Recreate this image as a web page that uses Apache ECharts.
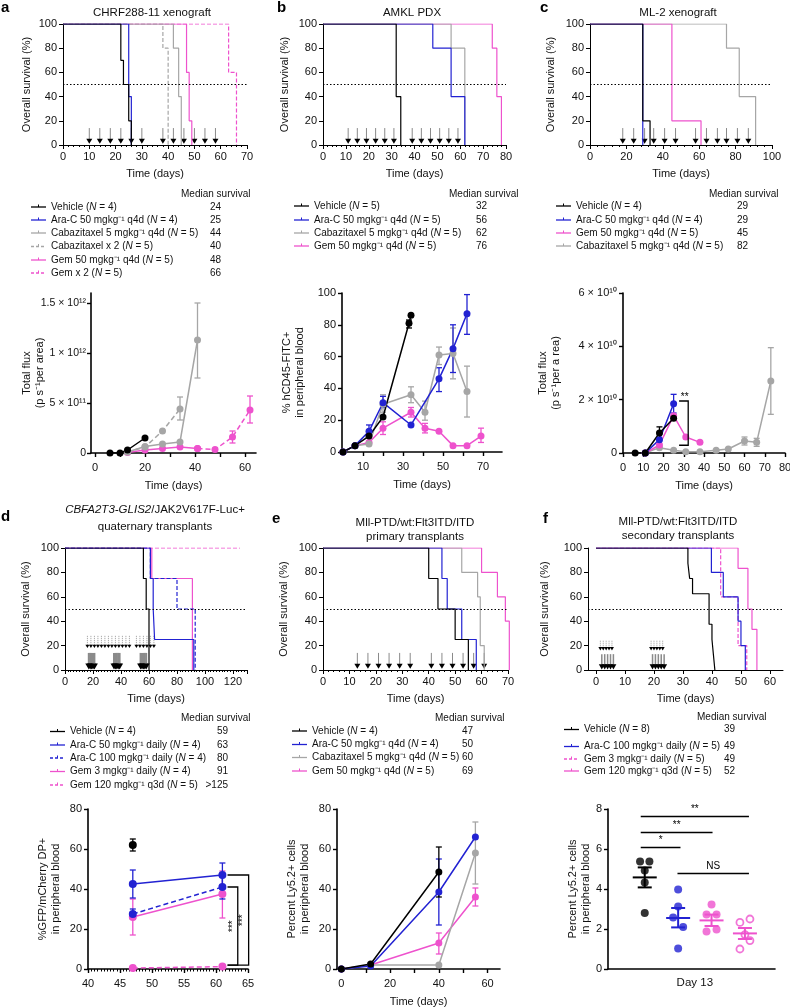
<!DOCTYPE html>
<html>
<head>
<meta charset="utf-8">
<script src="https://cdn.jsdelivr.net/npm/echarts@6/dist/echarts.min.js"></script>
<style>
  html, body { margin: 0; background: #fff; }
  #chart { width: 790px; height: 1007px; }
</style>
</head>
<body>
<div id="chart"></div>
<script>
const FONT = '"Liberation Sans", Arial, Helvetica, sans-serif';
const BLACK = '#000000', BLUE = '#2222d2', GRAY = '#a6a6a6', PINK = '#ee52cd';

// ---------- a: CHRF288-11 xenograft (survival, [day, % alive])
const aVehicle = [[0,100],[22,70],[23,50],[25,20],[26,0]];
const aAraC = [[0,100],[25,40],[26,0]];
const aCabazi = [[0,100],[42,80],[44,40],[45,0]];
const aCabazi2 = [[0,100],[38,80],[40,0]];
const aGem = [[0,100],[47,60],[48,20],[49,0]];
const aGem2 = [[0,100],[63,60],[66,0]];
const aDoseDays = [10,14,18,22,26,30,38,42,46,50,54,58];
const aNames = ['Vehicle ({i|N} = 4)', 'Ara-C 50 mgkg⁻¹ q4d ({i|N} = 4)', 'Cabazitaxel 5 mgkg⁻¹ q4d ({i|N} = 5)',
  'Cabazitaxel x 2 ({i|N} = 5)', 'Gem 50 mgkg⁻¹ q4d ({i|N} = 5)', 'Gem x 2 ({i|N} = 5)'];
const aMedians = ['24','25','44','40','48','66'];

// a: total flux (p/s per area)
const aFluxVehDays = [6,10,13,20],        aFluxVeh = [0, 0, 0.03e12, 0.15e12];
const aFluxCabDays = [13,20,27,34,41],    aFluxCab = [0.01e12, 0.065e12, 0.09e12, 0.11e12, 1.13e12];
const aFluxCab2Days = [13,20,27,34],      aFluxCab2 = [0.01e12, 0.06e12, 0.22e12, 0.44e12];
const aFluxGemDays = [13,20,27,34,41],    aFluxGem = [0.005e12, 0.03e12, 0.045e12, 0.06e12, 0.045e12];
const aFluxGem2Days = [41,48,55,62],      aFluxGem2 = [0.045e12, 0.035e12, 0.16e12, 0.43e12];
const aErrCab = [[41, 0.75e12, 1.5e12]];
const aErrCab2 = [[34, 0.33e12, 0.56e12]];
const aErrGem2 = [[55, 0.10e12, 0.22e12], [62, 0.30e12, 0.57e12]];

// ---------- b: AMKL PDX
const bVehicle = [[0,100],[32,40],[34,0]];
const bAraC = [[0,100],[48,80],[56,40],[62,0]];
const bCabazi = [[0,100],[56,80],[62,0]];
const bGem = [[0,100],[74,80],[76,40],[78,0]];
const bDoseDays = [11,15,19,23,27,31,39,43,47,51,55,59];
const bNames = ['Vehicle ({i|N} = 5)', 'Ara-C 50 mgkg⁻¹ q4d ({i|N} = 5)', 'Cabazitaxel 5 mgkg⁻¹ q4d ({i|N} = 5)', 'Gem 50 mgkg⁻¹ q4d ({i|N} = 5)'];
const bMedians = ['32','56','62','76'];

// b: % hCD45-FITC+ in peripheral blood
const bCdVehDays = [0,6,13,20,33,34],             bCdVeh = [0,4,10,22,81,86];
const bCdAraDays = [0,6,13,20,34,48,55,62],        bCdAra = [0,4,13,31,17,46,65,87];
const bCdCabDays = [0,6,13,20,34,41,48,55,62],     bCdCab = [0,4,5,30,36,25,61,62,38];
const bCdGemDays = [0,6,13,20,34,41,48,55,62,69],  bCdGem = [0,4,6,15,25,15,13,4,4,10];
const bErrVeh = [[33,78,83]];
const bErrAra = [[13,10,17],[20,28,35],[48,38,53],[55,50,80],[62,74,99]];
const bErrCab = [[20,25,36],[34,31,41],[41,20,32],[48,55,66],[55,46,78],[62,22,54]];
const bErrGem = [[20,11,19],[34,22,28],[41,12,18],[69,6,15]];

// ---------- c: ML-2 xenograft
const cVehicle = [[0,100],[29,20],[33,0]];
const cAraC = [[0,100],[29,0]];
const cGem = [[0,100],[45,20],[61,0]];
const cCabazi = [[0,100],[75,80],[82,40],[91,0]];
const cDoseDays = [18,24,30,35,41,47,58,64,70,75,81,87];
const cNames = ['Vehicle ({i|N} = 4)', 'Ara-C 50 mgkg⁻¹ q4d ({i|N} = 4)', 'Gem 50 mgkg⁻¹ q4d ({i|N} = 5)', 'Cabazitaxel 5 mgkg⁻¹ q4d ({i|N} = 5)'];
const cMedians = ['29','29','45','82'];

// c: total flux
const cFluxVehDays = [6,11,18,25],                         cFluxVeh = [0,0,0.75e10,1.3e10];
const cFluxAraDays = [11,18,25],                           cFluxAra = [0,0.5e10,1.85e10];
const cFluxGemDays = [11,18,25,31,38],                     cFluxGem = [0,0.3e10,1.4e10,0.6e10,0.4e10];
const cFluxCabDays = [11,18,25,31,38,46,52,60,66,73],      cFluxCab = [0,0.2e10,0.1e10,0.05e10,0.05e10,0.1e10,0.15e10,0.45e10,0.4e10,2.7e10];
const cErrVeh = [[18,0.55e10,0.98e10]];
const cErrAra = [[25,1.5e10,2.2e10]];
const cErrCab = [[60,0.3e10,0.6e10],[66,0.25e10,0.55e10],[73,1.45e10,3.95e10]];
const cSigBrackets = [[27.7, 32.2, 1.95e10, 0.29e10]];
const cSigLabels = ['**'];

// ---------- d: CBFA2T3-GLIS2/JAK2V617F-Luc+ quaternary transplants
const dVehicle = [[0,100],[56,75],[58,50],[60,0]];
const dAra50 = [[0,100],[61,75],[63,50],[64,25],[92,0]];
const dAra100 = [[0,100],[61,75],[80,50],[93,0]];
const dGem3 = [[0,100],[62,75],[91,0]];
const dGem120 = [[0,100],[125,100]];
const dDoseTop = [16,18.5,21,23.5,26,28.5,31,33.5,36,38.5,41,43.5,46,51,53.5,56,58.5,61,63.5];
const dDoseBottom = [17,18,19,20,21,35,36,37,38,39,54,55,56,57,58];
const dNames = ['Vehicle ({i|N} = 4)', 'Ara-C 50 mgkg⁻¹ daily ({i|N} = 4)', 'Ara-C 100 mgkg⁻¹ daily ({i|N} = 4)',
  'Gem 3 mgkg⁻¹ daily ({i|N} = 4)', 'Gem 120 mgkg⁻¹ q3d ({i|N} = 5)'];
const dMedians = ['59','63','80','91','>125'];

// d: %GFP/mCherry DP+ in peripheral blood
const dGfpDays = [47, 61];
const dGfpVeh = [62];
const dGfpAra50 = [42.5, 47];
const dGfpAra100 = [27.5, 41];
const dGfpGem3 = [26, 37.5];
const dGfpGem120 = [0.5, 1.2];
const dErrVeh = [[47,59,65]];
const dErrAra50 = [[47,35.5,49.5],[61,41,53]];
const dErrAra100 = [[47,25,30],[61,35,47]];
const dErrGem3 = [[47,17,35],[61,25.5,49]];
const dSigBrackets = [[61.8, 63.4, 41, 1.9], [61.8, 65.1, 47, 1.9]];
const dSigLabels = ['***', '***'];

// ---------- e: Mll-PTD/wt:Flt3ITD/ITD primary transplants
const eVehicle = [[0,100],[40,75],[43.5,50],[50,25],[55,0]];
const eAraC = [[0,100],[45,75],[47,50],[52.5,25],[58,0]];
const eCabazi = [[0,100],[52.5,80],[58.5,60],[59.5,20],[61,0]];
const eGem = [[0,100],[60,80],[66,60],[69,40],[70.5,0]];
const eDoseDays = [13,17,21,25,29,33,41,45,49,53,57,61];
const eNames = ['Vehicle ({i|N} = 4)', 'Ara-C 50 mgkg⁻¹ q4d ({i|N} = 4)', 'Cabazitaxel 5 mgkg⁻¹ q4d ({i|N} = 5)', 'Gem 50 mgkg⁻¹ q4d ({i|N} = 5)'];
const eMedians = ['47','50','60','69'];

// e: Percent Ly5.2+ cells in peripheral blood
const eLyVehDays = [0,12,40],     eLyVeh = [0,2.5,48.5];
const eLyAraDays = [0,12,40,55],  eLyAra = [0,1.5,38.5,66];
const eLyCabDays = [0,12,40,55],  eLyCab = [0,2,2,58];
const eLyGemDays = [0,12,40,55],  eLyGem = [0,2,13,36];
const eErrVeh = [[40,36,61]];
const eErrAra = [[40,22,55]];
const eErrCab = [[55,42.5,73.5]];
const eErrGem = [[40,7.5,18],[55,31.5,40.5]];

// ---------- f: Mll-PTD/wt:Flt3ITD/ITD secondary transplants
const fVehicle = [[0,100],[31.7,87.5],[32.3,75],[33.3,62.5],[39,37.5],[40,25],[40.5,12.5],[41,0]];
const fAraC = [[0,100],[39.8,80],[43.9,60],[49,40],[50,20],[51.5,0]];
const fGem3 = [[0,100],[43,60],[49,20],[52,0]];
const fGem120 = [[0,100],[49,83.3],[52.4,50],[53.8,33.3],[55.5,0]];
const fDoseTop = [1.5,2.5,3.5,4.5,5.5,19,20,21,22,23];
const fDoseBottom = [2,3,4,5,6,19.5,20.5,21.5,22.5,23.5];
const fNames = ['Vehicle ({i|N} = 8)', 'Ara-C 100 mgkg⁻¹ daily ({i|N} = 5)', 'Gem 3 mgkg⁻¹ daily ({i|N} = 5)', 'Gem 120 mgkg⁻¹ q3d ({i|N} = 5)'];
const fMedians = ['39','49','49','52'];

// f: Day 13 Ly5.2+ (individual mice, group mean ± s.e.m.)
const fVeh = [5.38, 5.38, 4.93, 4.33, 2.8];
const fAra = [3.97, 3.13, 2.58, 2.1, 1.02];
const fGemD = [3.22, 2.72, 2.72, 1.88, 1.97];
const fGemQ = [2.5, 2.33, 1.72, 1.42, 1.0];
const fMean = [4.58, 2.55, 2.43, 1.78];
const fSemLo = [4.08, 2.08, 2.15, 1.5];
const fSemHi = [5.08, 3.05, 2.72, 2.05];
const fSigLines = [[-0.12, 3.12, 7.63], [-0.12, 2.03, 6.83], [-0.12, 1.07, 6.07], [0.98, 3.12, 4.78]];
const fSigLabels = ['**', '**', '*', 'NS'];
// horizontal spread of the dots inside each group
const fJitter = {
  veh: [-0.14, 0.14, 0, 0, 0], ara: [0, 0, -0.15, 0.15, 0], gemD: [0, -0.15, 0.15, -0.15, 0.15], gemQ: [0.15, -0.15, 0, 0.15, -0.15]
};

// ================= helpers
function merge(a, b) {
  const o = Object.assign({}, a);
  for (const k in b) {
    if (b[k] && typeof b[k] === 'object' && !Array.isArray(b[k]) && a[k] && typeof a[k] === 'object') o[k] = merge(a[k], b[k]);
    else o[k] = b[k];
  }
  return o;
}
const SUP = {'0':'⁰','1':'¹','2':'²','3':'³','4':'⁴','5':'⁵','6':'⁶','7':'⁷','8':'⁸','9':'⁹'};
function sci(v) {
  if (!v) return '0';
  const e = Math.floor(Math.log10(v) + 1e-9);
  const m = Math.round(v / Math.pow(10, e) * 10) / 10;
  return m + ' × 10' + String(e).split('').map(c => SUP[c]).join('');
}

const axisBase = {
  type: 'value',
  axisLine: { show: true, onZero: false, lineStyle: { color: '#000', width: 1 } },
  axisTick: { show: true, length: 4, lineStyle: { color: '#000', width: 1 } },
  axisLabel: { color: '#111', fontSize: 11, fontFamily: FONT, margin: 6 },
  splitLine: { show: false },
  nameLocation: 'middle',
  nameMoveOverlap: false,
  nameTextStyle: { color: '#111', fontSize: 11, fontFamily: FONT, lineHeight: 13 }
};
const ax = (gi, extra) => merge(merge(axisBase, { gridIndex: gi }), extra);
const thick = { axisLine: { lineStyle: { width: 1.6 } }, axisTick: { lineStyle: { width: 1.4 } } };
const row2X = { name: 'Time (days)', nameGap: 26, axisLabel: { margin: 9 } };

function km(gi, data, color, dashed, extra) {
  return Object.assign({
    type: 'line', xAxisIndex: gi, yAxisIndex: gi, data, step: 'end', symbol: 'none', silent: true,
    lineStyle: { color, width: 1.2, type: dashed ? [4, 2] : 'solid' }
  }, extra || {});
}
function medianLine() {
  return { silent: true, symbol: ['none', 'none'], label: { show: false },
    lineStyle: { color: '#000', type: [1.5, 2], width: 1 }, data: [{ yAxis: 50 }] };
}
function curve(gi, xs, ys, color, dashed, size) {
  return {
    type: 'line', xAxisIndex: gi, yAxisIndex: gi, data: xs.map((x, i) => [x, ys[i]]),
    symbol: 'circle', symbolSize: size || 7, itemStyle: { color }, z: 3,
    lineStyle: { color, width: 1.5, type: dashed ? [5, 3] : 'solid' }
  };
}
function errBars(gi, data, color, cap) {
  const w = cap || 3;
  return {
    type: 'custom', xAxisIndex: gi, yAxisIndex: gi, data, z: 3, silent: true,
    renderItem(p, api) {
      const lo = api.coord([api.value(0), api.value(1)]);
      const hi = api.coord([api.value(0), api.value(2)]);
      const st = { stroke: color, lineWidth: 1.3 };
      return { type: 'group', children: [
        { type: 'line', shape: { x1: lo[0], y1: lo[1], x2: hi[0], y2: hi[1] }, style: st },
        { type: 'line', shape: { x1: lo[0] - w, y1: lo[1], x2: lo[0] + w, y2: lo[1] }, style: st },
        { type: 'line', shape: { x1: hi[0] - w, y1: hi[1], x2: hi[0] + w, y2: hi[1] }, style: st }
      ] };
    }
  };
}
// dosing arrows: stem from `top` down to `tip`, black head
function doses(gi, days, top, tip, o) {
  return {
    type: 'custom', xAxisIndex: gi, yAxisIndex: gi, data: days.map(d => [d, tip]), silent: true, z: 1,
    renderItem(p, api) {
      const d = api.value(0);
      const t = api.coord([d, top]), b = api.coord([d, tip]);
      const hw = o.head / 2, hh = o.head * 0.85;
      return { type: 'group', children: [
        { type: 'line', shape: { x1: t[0], y1: t[1], x2: b[0], y2: b[1] - hh + 1 },
          style: { stroke: o.stem, lineWidth: o.sw || 1, lineDash: o.dotted ? [1, 1] : null } },
        { type: 'polygon', shape: { points: [[b[0] - hw, b[1] - hh], [b[0] + hw, b[1] - hh], [b[0], b[1]]] }, style: { fill: '#000' } }
      ] };
    }
  };
}
// significance brackets: [xLeft, xRight, yTop, yBottom]
function brackets(gi, data, labels, mode) {
  return {
    type: 'custom', xAxisIndex: gi, yAxisIndex: gi, data, silent: true, z: 4,
    renderItem(p, api) {
      const a = api.coord([api.value(0), api.value(2)]);
      const b = api.coord([api.value(1), api.value(2)]);
      const c = api.coord([api.value(1), api.value(3)]);
      const d = api.coord([api.value(0), api.value(3)]);
      const t = mode === 'side'
        ? { type: 'text', x: b[0] - 5, y: (b[1] + c[1]) / 2, rotation: Math.PI / 2,
            style: { text: labels[p.dataIndex], fontSize: 10, fontFamily: FONT, fill: '#000', align: 'center', verticalAlign: 'middle' } }
        : { type: 'text', x: (a[0] + b[0]) / 2 + 1, y: a[1] + 1,
            style: { text: labels[p.dataIndex], fontSize: 10, fontFamily: FONT, fill: '#000', align: 'center', verticalAlign: 'bottom' } };
      return { type: 'group', children: [
        { type: 'polyline', shape: { points: [a, b, c, d] }, style: { stroke: '#000', lineWidth: 1.3, fill: null } }, t
      ] };
    }
  };
}

// ================= grids
const grids = [
  { left: 63, top: 24, width: 184, height: 121 },   // 0 a survival
  { left: 323, top: 24, width: 183, height: 121 },  // 1 b survival
  { left: 590, top: 24, width: 182, height: 121 },  // 2 c survival
  { left: 91, top: 293, width: 165, height: 160 },  // 3 a flux
  { left: 342, top: 293, width: 160, height: 159 }, // 4 b hCD45
  { left: 623, top: 293, width: 162, height: 160 }, // 5 c flux
  { left: 65, top: 548, width: 182, height: 122 },  // 6 d survival
  { left: 323, top: 548, width: 185, height: 122 }, // 7 e survival
  { left: 588, top: 548, width: 195, height: 122 }, // 8 f survival
  { left: 88, top: 809, width: 160, height: 160 },  // 9 d GFP
  { left: 337, top: 809, width: 163, height: 160 }, // 10 e Ly5.2
  { left: 608, top: 809, width: 167, height: 160 }  // 11 f Day 13
].map(g => Object.assign(g, { containLabel: false, outerBoundsMode: 'none' }));

const survX = (gi, max, interval, split) => ax(gi, {
  min: 0, max, interval, name: 'Time (days)', nameGap: 22,
  minorTick: { show: true, splitNumber: split || 5, length: 2, lineStyle: { color: '#000' } }
});
const survY = (gi, gap) => ax(gi, { min: 0, max: 100, interval: 20, name: 'Overall survival (%)', nameGap: gap });
const fTicks = [0, 10, 20, 30, 40, 50, 60];

const xAxes = [
  survX(0, 70, 10), survX(1, 80, 10), survX(2, 100, 20),
  ax(3, merge(merge(thick, row2X), { min: -1.6, max: 64.4,
    axisLabel: { customValues: [0, 20, 40, 60] }, axisTick: { customValues: [0, 10, 20, 30, 40, 50, 60] } })),
  ax(4, merge(merge(thick, row2X), { min: -0.5, max: 79.5,
    axisLabel: { customValues: [10, 30, 50, 70] }, axisTick: { customValues: [10, 20, 30, 40, 50, 60, 70] } })),
  ax(5, merge(merge(thick, row2X), { min: 0, max: 80, interval: 10 })),
  survX(6, 130, 20, 10), survX(7, 70, 10),
  ax(8, { min: -2.76, max: 64.5, name: 'Time (days)', nameGap: 22,
    axisLabel: { customValues: fTicks }, axisTick: { customValues: fTicks } }),
  ax(9, merge(thick, { min: 40, max: 65, interval: 5, axisLabel: { margin: 9 },
    minorTick: { show: true, splitNumber: 10, length: 2.5, lineStyle: { color: '#000', width: 1 } } })),
  ax(10, merge(merge(thick, row2X), { min: -1.8, max: 65.1,
    axisLabel: { customValues: [0, 20, 40, 60] }, axisTick: { customValues: [0, 10, 20, 30, 40, 50, 60] } })),
  ax(11, merge(thick, { min: -1.1, max: 3.9, axisTick: { show: false },
    axisLabel: { customValues: [1.5], formatter: () => 'Day 13', fontSize: 11.5, margin: 8 } }))
];
const yAxes = [
  survY(0, 30), survY(1, 32), survY(2, 33),
  ax(3, merge(thick, { min: 0, max: 1.6e12, name: 'Total flux\n(p s⁻¹per area)', nameGap: 45,
    axisLabel: { customValues: [0, 5e11, 1e12, 1.5e12], formatter: sci, fontSize: 10.5, margin: 5 },
    axisTick: { customValues: [0, 5e11, 1e12, 1.5e12] } })),
  ax(4, merge(thick, { min: 0, max: 100, interval: 20, name: '% hCD45-FITC+\nin peripheral blood', nameGap: 36 })),
  ax(5, merge(thick, { min: 0, max: 6e10, interval: 2e10, name: 'Total flux\n(p s⁻¹per a rea)', nameGap: 61, axisLabel: { formatter: sci } })),
  survY(6, 33), survY(7, 33), survY(8, 37),
  ax(9, merge(thick, { min: 0, max: 80, interval: 20, name: '%GFP/mCherry DP+\nin peripheral blood', nameGap: 26 })),
  ax(10, merge(thick, { min: 0, max: 80, interval: 20, name: 'Percent Ly5.2+ cells\nin peripheral blood', nameGap: 26 })),
  ax(11, merge(thick, { min: 0, max: 8, interval: 2, name: 'Percent Ly5.2+ cells\nin peripheral blood', nameGap: 16 }))
];

// ================= series
const series = [];
// survival curves (drawn bottom to top)
[[aGem2, PINK, true], [aGem, PINK], [aCabazi2, GRAY, true], [aCabazi, GRAY], [aAraC, BLUE]].forEach(s => series.push(km(0, s[0], s[1], s[2])));
series.push(km(0, aVehicle, BLACK, false, { markLine: medianLine() }));
series.push(doses(0, aDoseDays, 14, 1, { head: 6, stem: '#8a8a8a' }));

[[bGem, PINK], [bCabazi, GRAY], [bAraC, BLUE]].forEach(s => series.push(km(1, s[0], s[1])));
series.push(km(1, bVehicle, BLACK, false, { markLine: medianLine() }));
series.push(doses(1, bDoseDays, 14, 1, { head: 6, stem: '#8a8a8a' }));

[[cCabazi, GRAY], [cGem, PINK], [cAraC, BLUE]].forEach(s => series.push(km(2, s[0], s[1])));
series.push(km(2, cVehicle, BLACK, false, { markLine: medianLine() }));
series.push(doses(2, cDoseDays, 14, 1, { head: 6, stem: '#8a8a8a' }));

[[dGem120, PINK, true], [dGem3, PINK], [dAra100, BLUE, true], [dAra50, BLUE]].forEach(s => series.push(km(6, s[0], s[1], s[2])));
series.push(km(6, dVehicle, BLACK, false, { markLine: medianLine() }));
series.push(doses(6, dDoseTop, 28, 18, { head: 4, stem: '#9a9a9a', dotted: true }));
series.push(doses(6, dDoseBottom, 14, 0.5, { head: 7, stem: '#8a8a8a', sw: 2 }));

[[eGem, PINK], [eCabazi, GRAY], [eAraC, BLUE]].forEach(s => series.push(km(7, s[0], s[1])));
series.push(km(7, eVehicle, BLACK, false, { markLine: medianLine() }));
series.push(doses(7, eDoseDays, 14, 1, { head: 6, stem: '#8a8a8a' }));

[[fGem120, PINK], [fGem3, PINK, true], [fAraC, BLUE]].forEach(s => series.push(km(8, s[0], s[1], s[2])));
series.push(km(8, fVehicle, BLACK, false, { markLine: medianLine() }));
series.push(doses(8, fDoseTop, 24, 16, { head: 4, stem: '#9a9a9a', dotted: true }));
series.push(doses(8, fDoseBottom, 13, 0.5, { head: 6, stem: '#8a8a8a', sw: 1.5 }));

// a flux
series.push(curve(3, aFluxGemDays, aFluxGem, PINK), curve(3, aFluxGem2Days, aFluxGem2, PINK, true),
  curve(3, aFluxCab2Days, aFluxCab2, GRAY, true), curve(3, aFluxCabDays, aFluxCab, GRAY),
  curve(3, aFluxVehDays, aFluxVeh, BLACK));
series.push(errBars(3, aErrCab, GRAY), errBars(3, aErrCab2, GRAY), errBars(3, aErrGem2, PINK));

// b hCD45
series.push(curve(4, bCdGemDays, bCdGem, PINK), curve(4, bCdCabDays, bCdCab, GRAY), curve(4, bCdAraDays, bCdAra, BLUE), curve(4, bCdVehDays, bCdVeh, BLACK));
series.push(errBars(4, bErrGem, PINK), errBars(4, bErrCab, GRAY), errBars(4, bErrAra, BLUE), errBars(4, bErrVeh, BLACK));

// c flux
series.push(curve(5, cFluxCabDays, cFluxCab, GRAY), curve(5, cFluxGemDays, cFluxGem, PINK), curve(5, cFluxAraDays, cFluxAra, BLUE), curve(5, cFluxVehDays, cFluxVeh, BLACK));
series.push(errBars(5, cErrCab, GRAY), errBars(5, cErrAra, BLUE), errBars(5, cErrVeh, BLACK));
series.push(brackets(5, cSigBrackets, cSigLabels, 'top'));

// d GFP
series.push(curve(9, dGfpDays, dGfpGem120, PINK, true, 8), curve(9, dGfpDays, dGfpGem3, PINK, false, 8),
  curve(9, dGfpDays, dGfpAra100, BLUE, true, 8), curve(9, dGfpDays, dGfpAra50, BLUE, false, 8),
  curve(9, [47], dGfpVeh, BLACK, false, 8));
series.push(errBars(9, dErrGem3, PINK), errBars(9, dErrAra100, BLUE), errBars(9, dErrAra50, BLUE), errBars(9, dErrVeh, BLACK));
series.push(brackets(9, dSigBrackets, dSigLabels, 'side'));

// e Ly5.2
series.push(curve(10, eLyGemDays, eLyGem, PINK), curve(10, eLyCabDays, eLyCab, GRAY), curve(10, eLyAraDays, eLyAra, BLUE), curve(10, eLyVehDays, eLyVeh, BLACK));
series.push(errBars(10, eErrGem, PINK), errBars(10, eErrCab, GRAY), errBars(10, eErrAra, BLUE), errBars(10, eErrVeh, BLACK));

// f Day 13 dot plot
const dots = (vals, jit, g, color, open) => ({
  type: 'scatter', xAxisIndex: 11, yAxisIndex: 11, data: vals.map((v, i) => [g + jit[i], v]),
  symbolSize: open ? 7 : 8, z: 3,
  itemStyle: open ? { color: '#fff', borderColor: color, borderWidth: 1.8 } : { color }
});
series.push(dots(fVeh, fJitter.veh, 0, BLACK), dots(fAra, fJitter.ara, 1, BLUE),
  dots(fGemD, fJitter.gemD, 2, PINK), dots(fGemQ, fJitter.gemQ, 3, PINK, true));
const fColors = [BLACK, BLUE, PINK, PINK];
series.push({
  type: 'custom', xAxisIndex: 11, yAxisIndex: 11, silent: true, z: 4,
  data: fMean.map((m, i) => [i, m, fSemLo[i], fSemHi[i]]),
  renderItem(p, api) {
    const g = api.value(0), col = fColors[p.dataIndex];
    const m = api.coord([g, api.value(1)]), lo = api.coord([g, api.value(2)]), hi = api.coord([g, api.value(3)]);
    const st = { stroke: col, lineWidth: 2 };
    return { type: 'group', children: [
      { type: 'line', shape: { x1: m[0] - 12, y1: m[1], x2: m[0] + 12, y2: m[1] }, style: st },
      { type: 'line', shape: { x1: lo[0], y1: lo[1], x2: hi[0], y2: hi[1] }, style: st },
      { type: 'line', shape: { x1: lo[0] - 7, y1: lo[1], x2: lo[0] + 7, y2: lo[1] }, style: st },
      { type: 'line', shape: { x1: hi[0] - 7, y1: hi[1], x2: hi[0] + 7, y2: hi[1] }, style: st }
    ] };
  }
});
series.push({
  type: 'custom', xAxisIndex: 11, yAxisIndex: 11, silent: true, z: 4, data: fSigLines,
  renderItem(p, api) {
    const a = api.coord([api.value(0), api.value(2)]), b = api.coord([api.value(1), api.value(2)]);
    return { type: 'group', children: [
      { type: 'line', shape: { x1: a[0], y1: a[1], x2: b[0], y2: b[1] }, style: { stroke: '#000', lineWidth: 1.5 } },
      { type: 'text', x: (a[0] + b[0]) / 2, y: a[1] - 2,
        style: { text: fSigLabels[p.dataIndex], fontSize: 10, fontFamily: FONT, fill: '#000', align: 'center', verticalAlign: 'bottom' } }
    ] };
  }
});

// ================= text: panel letters, titles, legends
const graphic = [];
const txt = (x, y, text, o) => graphic.push({
  type: 'text', x, y, silent: true,
  style: Object.assign({ text, fontSize: 11, fontFamily: FONT, fill: '#111', align: 'left', verticalAlign: 'middle',
    rich: { i: { fontStyle: 'italic', fontSize: (o && o.fontSize) || 11, fontFamily: FONT, fill: '#111' } } }, o || {})
});
[['a', 1, 8], ['b', 277, 8], ['c', 540, 8], ['d', 1, 517], ['e', 272, 519], ['f', 543, 519]]
  .forEach(([l, x, y]) => txt(x, y, l, { fontSize: 15, fontWeight: 'bold', fill: '#000' }));
txt(152, 13, 'CHRF288-11 xenograft', { align: 'center', fontSize: 11.5 });
txt(412, 13, 'AMKL PDX', { align: 'center', fontSize: 11.5 });
txt(678, 13, 'ML-2 xenograft', { align: 'center', fontSize: 11.5 });
txt(155, 510, '{i|CBFA2T3-GLIS2}/JAK2V617F-Luc+', { align: 'center', fontSize: 11.5 });
txt(155, 527, 'quaternary transplants', { align: 'center', fontSize: 11.5 });
txt(415, 523, 'Mll-PTD/wt:Flt3ITD/ITD', { align: 'center', fontSize: 11.5 });
txt(415, 537, 'primary transplants', { align: 'center', fontSize: 11.5 });
txt(678, 522, 'Mll-PTD/wt:Flt3ITD/ITD', { align: 'center', fontSize: 11.5 });
txt(678, 536, 'secondary transplants', { align: 'center', fontSize: 11.5 });

function legend(names, medians, colors, dashes, L) {
  txt(L.head, L.headY, 'Median survival', { fontSize: 10 });
  names.forEach((n, i) => {
    const y = L.rows[i], c = colors[i];
    graphic.push({ type: 'line', silent: true, shape: { x1: L.line, y1: y, x2: L.line + 15, y2: y },
      style: { stroke: c, lineWidth: 1.3, lineDash: dashes[i] ? [3, 2] : null } });
    graphic.push({ type: 'line', silent: true, shape: { x1: L.line + 7.5, y1: y - 2.5, x2: L.line + 7.5, y2: y },
      style: { stroke: c, lineWidth: 1 } });
    txt(L.line + 20, y, n, { fontSize: 10 });
    txt(L.med, y, medians[i], { fontSize: 10, align: L.medAlign || 'left' });
  });
}
legend(aNames, aMedians, [BLACK, BLUE, GRAY, GRAY, PINK, PINK], [0, 0, 0, 1, 0, 1],
  { line: 31, med: 210, head: 181, headY: 194, rows: [207, 220, 233, 246.5, 260, 273] });
legend(bNames, bMedians, [BLACK, BLUE, GRAY, PINK], [0, 0, 0, 0],
  { line: 294, med: 476, head: 449, headY: 194, rows: [206, 220, 233, 246] });
legend(cNames, cMedians, [BLACK, BLUE, PINK, GRAY], [0, 0, 0, 0],
  { line: 556, med: 737, head: 709, headY: 194, rows: [206, 220, 233, 246] });
legend(dNames, dMedians, [BLACK, BLUE, BLUE, PINK, PINK], [0, 0, 1, 0, 1],
  { line: 50, med: 228, medAlign: 'right', head: 181, headY: 718, rows: [731.5, 745, 758, 771.5, 785] });
legend(eNames, eMedians, [BLACK, BLUE, GRAY, PINK], [0, 0, 0, 0],
  { line: 292, med: 462, head: 435, headY: 718, rows: [731, 744.5, 757.5, 771] });
legend(fNames, fMedians, [BLACK, BLUE, PINK, PINK], [0, 0, 1, 0],
  { line: 564, med: 724, head: 697, headY: 717, rows: [729.5, 746.5, 759, 771] });

const chart = echarts.init(document.getElementById('chart'), null, { renderer: 'canvas' });
chart.setOption({
  animation: false,
  backgroundColor: '#fff',
  textStyle: { fontFamily: FONT },
  grid: grids,
  xAxis: xAxes,
  yAxis: yAxes,
  series,
  graphic
});
window.addEventListener('resize', chart.resize);
</script>
</body>
</html>
